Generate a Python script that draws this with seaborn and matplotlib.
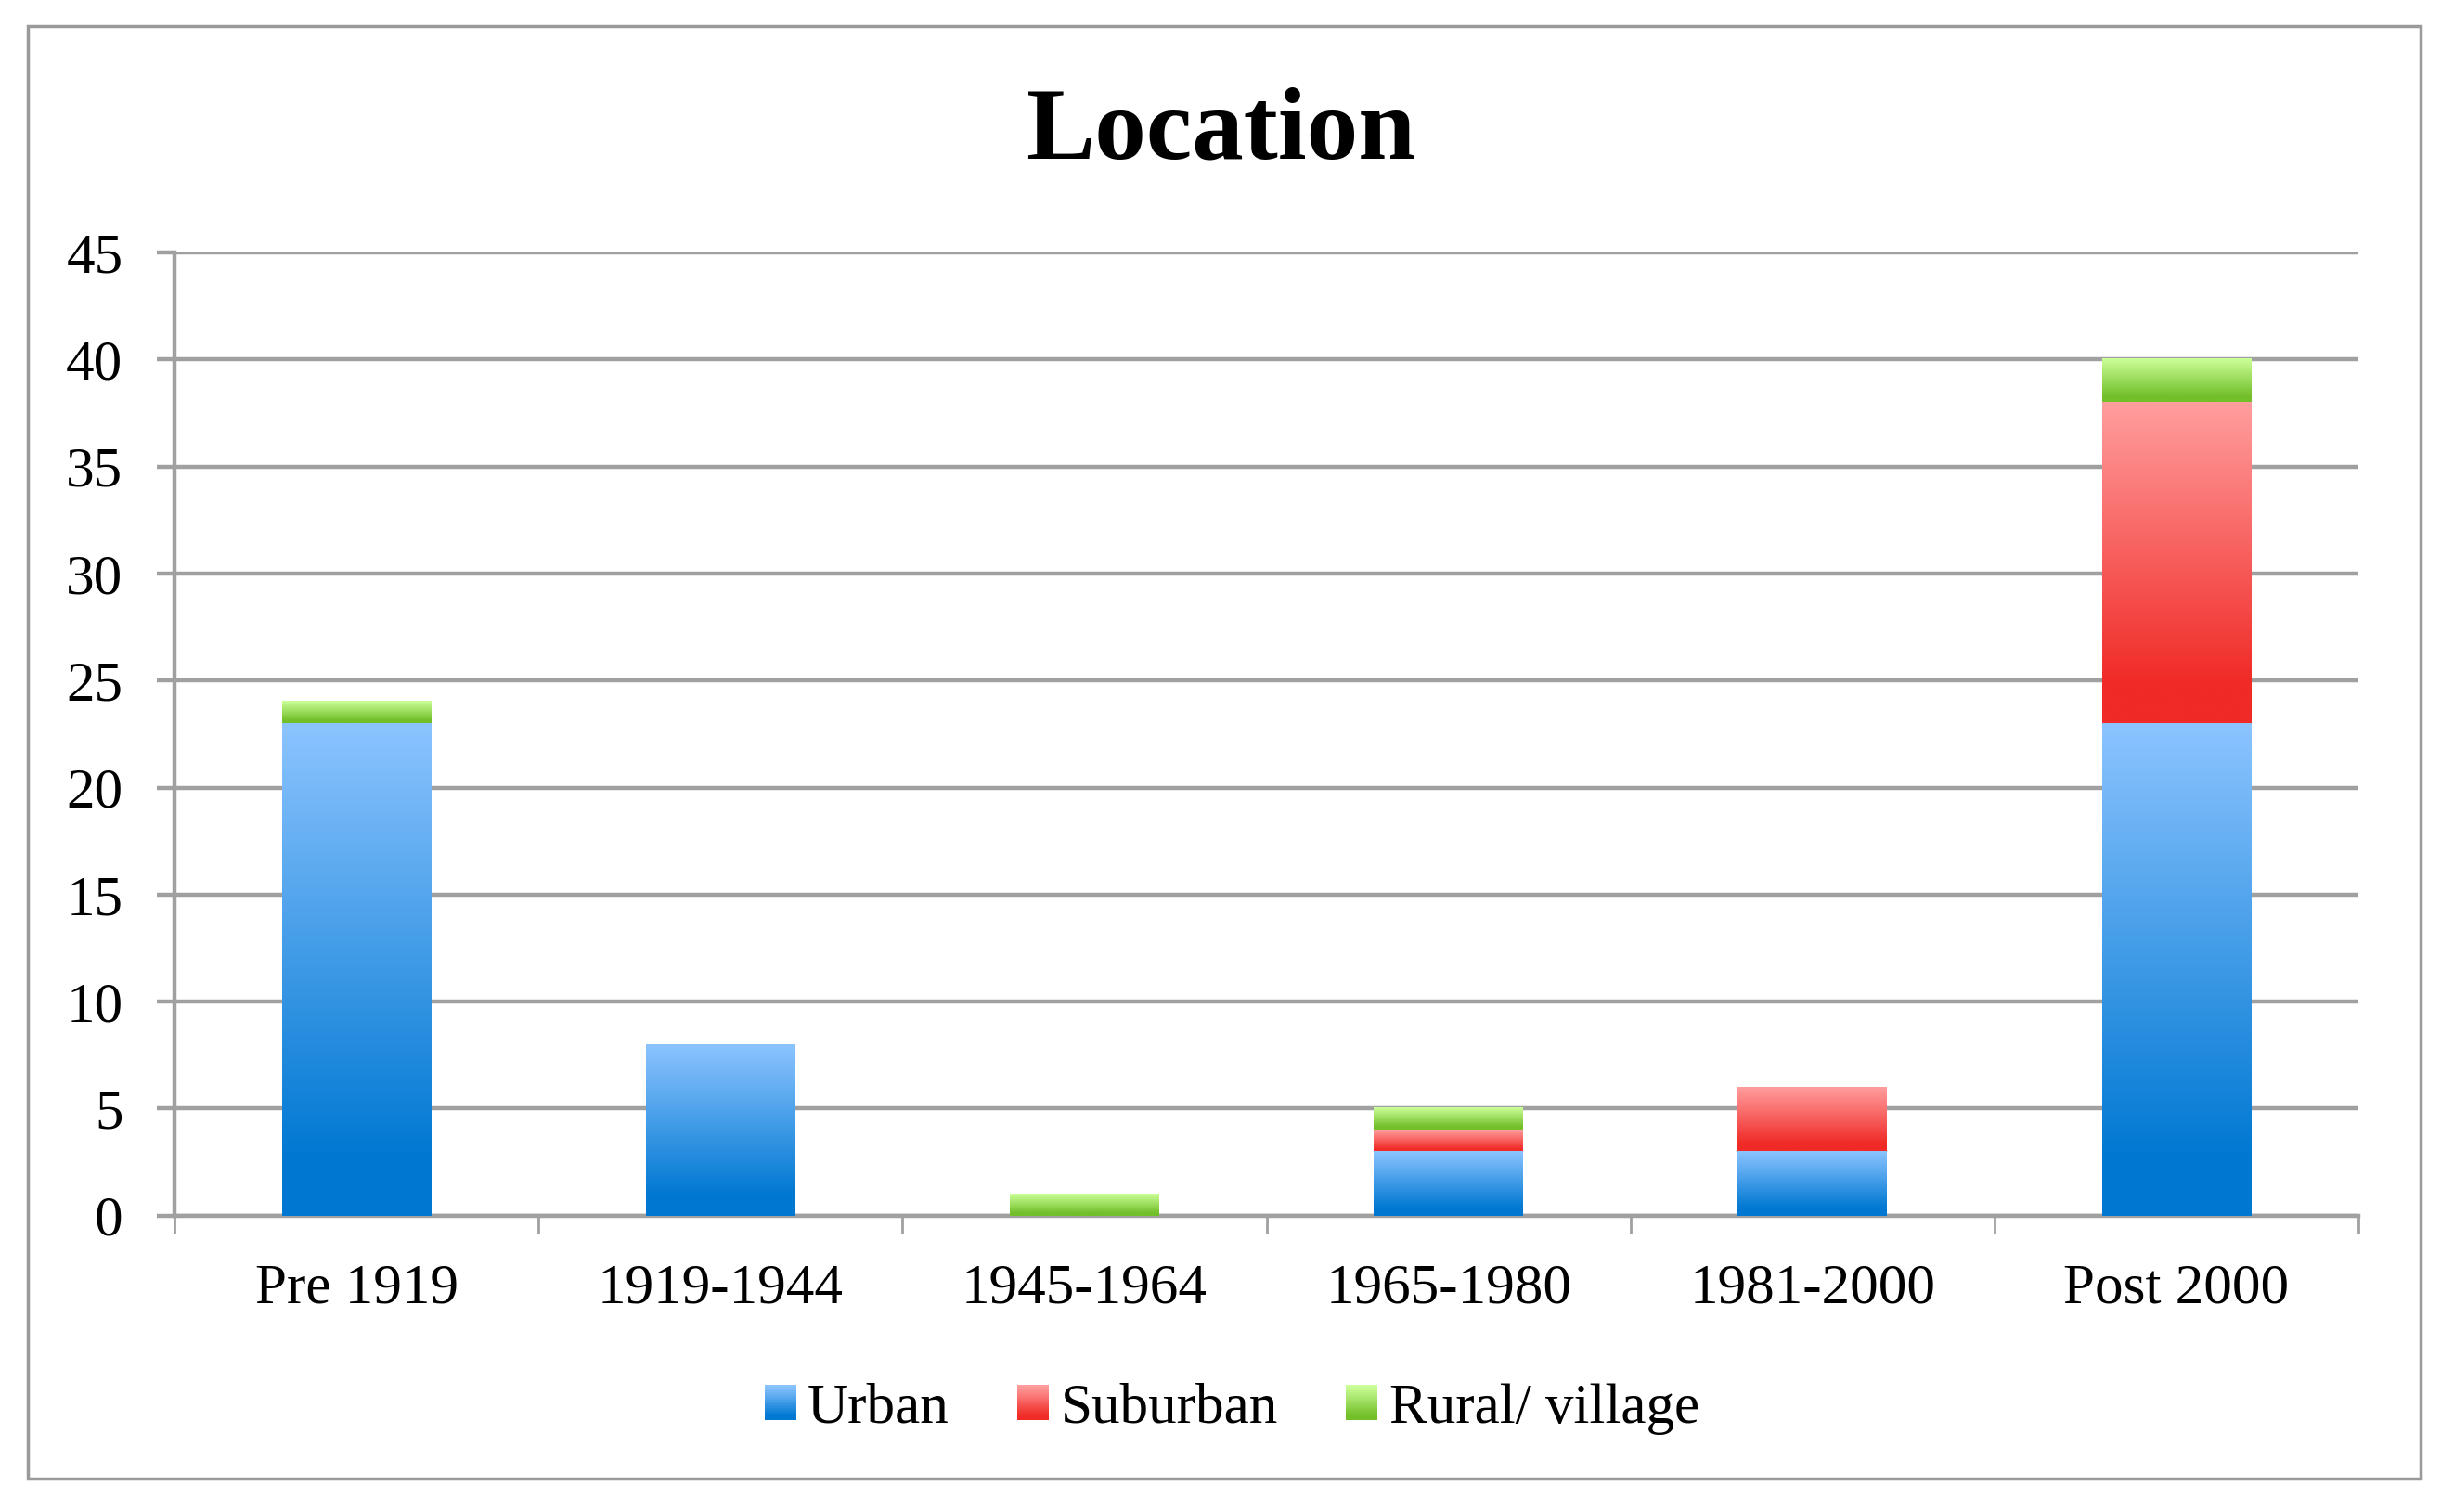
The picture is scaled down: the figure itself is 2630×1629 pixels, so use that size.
import numpy as np
import pandas as pd
import matplotlib
matplotlib.use("Agg")
import matplotlib.pyplot as plt
import seaborn as sns
from matplotlib.colors import LinearSegmentedColormap
from matplotlib.patches import Rectangle
from matplotlib.legend_handler import HandlerBase

# data
periods = ["Pre 1919", "1919-1944", "1945-1964", "1965-1980", "1981-2000", "Post 2000"]
urban = [23, 8, 0, 3, 3, 23]
suburban = [0, 0, 0, 1, 3, 15]
rural = [1, 0, 1, 1, 0, 2]
series = ["Urban", "Suburban", "Rural/ village"]

# gradient colours per series (bottom, top)
grad_cols = {
    "Urban": ("#0078d2", "#8cc4ff"),
    "Suburban": ("#f02a26", "#ff9e9e"),
    "Rural/ village": ("#72bf2a", "#ccff99"),
}
cmaps = {k: LinearSegmentedColormap.from_list(k, [(0, b), (0.12, b), (1, t)])
         for k, (b, t) in grad_cols.items()}

sns.set_style("white")
plt.rcParams["font.family"] = ["Liberation Serif", "DejaVu Serif"]
plt.rcParams["text.color"] = "black"
plt.rcParams["xtick.labelcolor"] = "black"
plt.rcParams["ytick.labelcolor"] = "black"

df = pd.DataFrame({"period": periods, "urban": urban, "suburban": suburban, "rural": rural})
df["lvl1"] = df["urban"]
df["lvl2"] = df["urban"] + df["suburban"]
df["lvl3"] = df["lvl2"] + df["rural"]

fig = plt.figure(figsize=(26.3, 16.29), dpi=100)
ax = fig.add_axes([0.0715, 0.196, 0.8947, 0.637])

bar_w = 0.41
# overlapping totals: rural on top, then suburban, then urban
layers = [("Rural/ village", "lvl3", "lvl2"), ("Suburban", "lvl2", "lvl1"), ("Urban", "lvl1", None)]
for name, top_col, _ in layers:
    sns.barplot(data=df, x="period", y=top_col, color=grad_cols[name][0], width=bar_w, ax=ax)

# replace flat bars with vertical gradients, one per stacked segment
grad = np.linspace(0, 1, 256).reshape(-1, 1)
for li, (name, top_col, bot_col) in enumerate(layers):
    patches = ax.patches[li * len(periods):(li + 1) * len(periods)]
    for i, p in enumerate(patches):
        p.set_visible(False)
        top = df[top_col].iloc[i]
        bot = df[bot_col].iloc[i] if bot_col else 0
        if top - bot <= 0:
            continue
        x0 = p.get_x()
        ax.imshow(grad, cmap=cmaps[name], origin="lower", aspect="auto",
                  extent=[x0, x0 + p.get_width(), bot, top], zorder=3,
                  interpolation="bicubic")

grid_c = "#a0a0a0"
ax.set_xlim(-0.5, len(periods) - 0.5)
ax.set_ylim(0, 45)
ax.set_yticks(range(0, 46, 5))
ax.yaxis.grid(True, color=grid_c, lw=3.2)
ax.set_axisbelow(True)

ax.set_xticks(np.arange(-0.5, len(periods), 1))
ax.set_xticklabels([])
ax.set_xticks(range(len(periods)), minor=True)
ax.set_xticklabels(periods, minor=True)
ax.set_xlabel("")
ax.set_ylabel("")

ax.tick_params(axis="x", which="major", direction="out", length=14, width=2, color=grid_c, bottom=True)
ax.tick_params(axis="x", which="minor", length=0, pad=37, labelsize=44)
ax.tick_params(axis="y", direction="out", length=14, width=3.2, color=grid_c, pad=26, labelsize=44, left=True)

for s in ["top", "right"]:
    ax.spines[s].set_visible(False)
for s in ["left", "bottom"]:
    ax.spines[s].set_color(grid_c)
    ax.spines[s].set_linewidth(3.2)

fig.text(0.5, 0.912, "Location", ha="center", va="center", fontsize=80, fontweight="bold")


class GradHandler(HandlerBase):
    def __init__(self, cmap):
        super().__init__()
        self.cmap = cmap

    def create_artists(self, legend, orig_handle, xdescent, ydescent, width, height, fontsize, trans):
        n = 20
        arts = []
        for k in range(n):
            r = Rectangle((-xdescent, -ydescent + k * height / n), width, height / n + 0.3,
                          facecolor=self.cmap(k / (n - 1)), edgecolor="none", transform=trans)
            arts.append(r)
        return arts


handles = [Rectangle((0, 0), 1, 1) for _ in series]
fig.legend(handles, series, loc="center", bbox_to_anchor=(0.5046, 0.068), ncol=3, frameon=False,
           fontsize=44, handlelength=0.56, handleheight=0.57, handletextpad=0.2, columnspacing=1.2,
           handler_map={h: GradHandler(cmaps[s]) for h, s in zip(handles, series)})

# chart border
fig.add_artist(Rectangle((30 / 2630, 1 - 1593 / 1629), 2578 / 2630, 1565 / 1629,
                         transform=fig.transFigure, fill=False, edgecolor="#9a9a9a", lw=2.5))

fig.savefig("out.png", dpi=100, facecolor="white")
